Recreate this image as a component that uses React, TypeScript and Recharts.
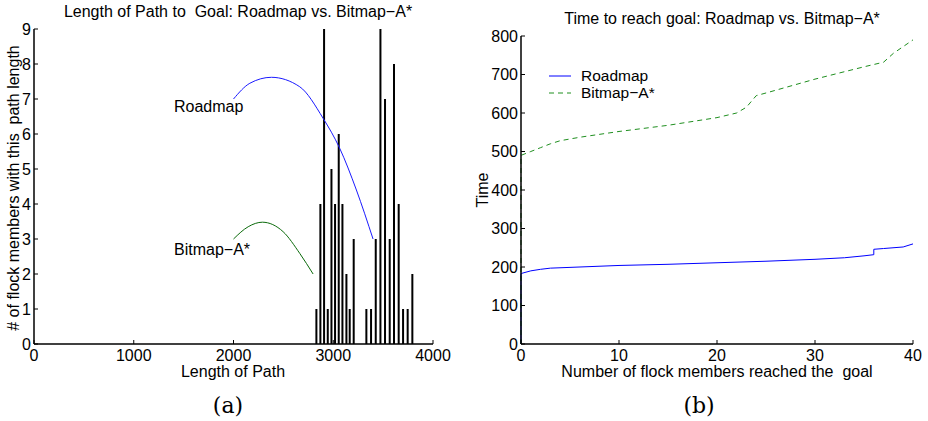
import { ComposedChart, LineChart, Line, Bar, XAxis, YAxis, Legend } from 'recharts'

// (a) histogram of path lengths
const pathLengths  = [2831, 2871, 2908, 2945, 2982, 3018, 3055, 3092, 3132, 3165, 3205, 3332, 3379, 3426, 3473, 3519, 3566, 3609, 3656, 3700, 3746, 3793]
const memberCounts = [1, 4, 9, 1, 5, 4, 6, 4, 2, 1, 3, 1, 1, 3, 9, 7, 3, 8, 4, 1, 1, 2]

// annotation curves pointing at the two groups
const roadmapArcX = [2000, 2164, 2381, 2664, 2898, 3065, 3232, 3399]
const roadmapArcY = [7.0, 7.45, 7.62, 7.35, 6.45, 5.59, 4.4, 3.0]
const bitmapArcX  = [2000, 2147, 2290, 2497, 2664, 2798]
const bitmapArcY  = [3.0, 3.35, 3.48, 3.21, 2.59, 2.0]

const lengthTicks = [0, 1000, 2000, 3000, 4000]
const countTicks  = [0, 1, 2, 3, 4, 5, 6, 7, 8, 9]

// (b) time to reach goal
const roadmapMembers = [0, 0, 1, 2, 3, 5, 10, 15, 20, 25, 30, 33, 35, 36, 36, 37, 39, 40]
const roadmapTimes   = [0, 183, 190, 194, 197, 199, 204, 207, 211, 215, 220, 224, 229, 232, 246, 248, 252, 260]
const bitmapMembers  = [0, 0, 1, 2, 3, 4, 6, 10, 15, 20, 22, 23, 24, 25, 30, 35, 37, 38, 40]
const bitmapTimes    = [0, 490, 500, 510, 520, 528, 537, 552, 568, 588, 600, 615, 645, 652, 688, 720, 732, 755, 790]

const memberTicks = [0, 10, 20, 30, 40]
const timeTicks   = [0, 100, 200, 300, 400, 500, 600, 700, 800]

const FONT = '"Liberation Sans", Arial, Helvetica, sans-serif'
const tickStyle = { fontSize: 16, fill: '#000', fontFamily: FONT }
const frame = { stroke: '#000', strokeWidth: 1.5 }
const blank = () => ''

const histData   = pathLengths.map((x, i) => ({ x, count: memberCounts[i] }))
const roadmapArc = roadmapArcX.map((x, i) => ({ x, y: roadmapArcY[i] }))
const bitmapArc  = bitmapArcX.map((x, i) => ({ x, y: bitmapArcY[i] }))
const roadmapRun = roadmapMembers.map((x, i) => ({ x, y: roadmapTimes[i] }))
const bitmapRun  = bitmapMembers.map((x, i) => ({ x, y: bitmapTimes[i] }))

// thin stem drawn at the centre of the bar slot
function Stem(props: any) {
  const { x, y, width, height } = props
  if (!height) return null
  return <rect x={x + width / 2 - 1} y={y} width={2} height={height} fill="#000" />
}

function Text({ x, y, children, size = 16, rotate = false, serif = false, anchor = 'center' }: any) {
  const tx = anchor === 'center' ? '-50%' : '0'
  return (
    <div
      style={{
        position:   'absolute',
        left:       x,
        top:        y,
        transform:  `translate(${tx}, -50%)${rotate ? ' rotate(-90deg)' : ''}`,
        fontSize:   size,
        fontFamily: serif ? '"DejaVu Serif", "Liberation Serif", serif' : FONT,
        whiteSpace: 'pre',
        color:      '#000',
        lineHeight: 1,
      }}
    >
      {children}
    </div>
  )
}

function LegendBox() {
  const rows = [
    { name: 'Roadmap',   color: '#0000ff', dash: undefined },
    { name: 'Bitmap-A*', color: '#1f8f1f', dash: '5 4' },
  ]
  return (
    <div style={{ fontFamily: FONT, fontSize: 15.5 }}>
      {rows.map((r) => (
        <div key={r.name} style={{ display: 'flex', alignItems: 'center', height: 17 }}>
          <svg width={24} height={6} style={{ marginRight: 8 }}>
            <line x1={0} y1={3} x2={22} y2={3} stroke={r.color} strokeWidth={1} strokeDasharray={r.dash} />
          </svg>
          <span style={{ whiteSpace: 'pre' }}>{r.name.replace('-', '\u2212')}</span>
        </div>
      ))}
    </div>
  )
}

export default function App() {
  return (
    <div style={{ position: 'absolute', left: 0, top: 0, width: 928, height: 421, background: '#fff' }}>
      <div style={{ position: 'absolute', left: 0, top: 0 }}>
        <ComposedChart width={460} height={421} data={histData} margin={{ top: 29, right: 27, bottom: 47, left: 4 }}>
          <XAxis
            dataKey="x" type="number" domain={[0, 4000]} ticks={lengthTicks}
            height={30} tickSize={-4} tickMargin={10} tick={tickStyle}
            axisLine={frame} tickLine={{ stroke: '#000' }} allowDataOverflow
          />
          <XAxis
            xAxisId="top" orientation="top" type="number" domain={[0, 4000]} ticks={lengthTicks}
            height={0} tickSize={-4} tickFormatter={blank}
            axisLine={frame} tickLine={{ stroke: '#000' }}
          />
          <YAxis
            type="number" domain={[0, 9]} ticks={countTicks} width={30}
            tickSize={-4} tickMargin={7} tick={tickStyle}
            axisLine={frame} tickLine={{ stroke: '#000' }} allowDataOverflow
          />
          <YAxis
            yAxisId="right" orientation="right" type="number" domain={[0, 9]} ticks={countTicks} width={0}
            tickSize={-4} tickFormatter={blank}
            axisLine={frame} tickLine={{ stroke: '#000' }}
          />
          <Bar dataKey="count" fill="#000" shape={<Stem />} isAnimationActive={false} />
          <Line data={roadmapArc} dataKey="y" type="monotone" stroke="#1a1aff" strokeWidth={1} dot={false} isAnimationActive={false} />
          <Line data={bitmapArc} dataKey="y" type="monotone" stroke="#0a6a0a" strokeWidth={1} dot={false} isAnimationActive={false} />
        </ComposedChart>
      </div>

      <div style={{ position: 'absolute', left: 460, top: 0 }}>
        <LineChart width={468} height={421} margin={{ top: 36, right: 15, bottom: 47, left: 21 }}>
          <XAxis
            dataKey="x" type="number" domain={[0, 40]} ticks={memberTicks}
            height={30} tickSize={-4} tickMargin={10} tick={tickStyle}
            axisLine={frame} tickLine={{ stroke: '#000' }}
          />
          <XAxis
            xAxisId="top" orientation="top" type="number" domain={[0, 40]} ticks={memberTicks}
            height={0} tickSize={-4} tickFormatter={blank}
            axisLine={frame} tickLine={{ stroke: '#000' }}
          />
          <YAxis
            type="number" domain={[0, 800]} ticks={timeTicks} width={40}
            tickSize={-4} tickMargin={7} tick={tickStyle}
            axisLine={frame} tickLine={{ stroke: '#000' }}
          />
          <YAxis
            yAxisId="right" orientation="right" type="number" domain={[0, 800]} ticks={timeTicks} width={0}
            tickSize={-4} tickFormatter={blank}
            axisLine={frame} tickLine={{ stroke: '#000' }}
          />
          <Legend
            layout="vertical" align="center" verticalAlign="middle"
            wrapperStyle={{ left: 89, top: 67, width: 'auto', height: 'auto' }}
            content={<LegendBox />}
          />
          <Line data={roadmapRun} dataKey="y" name="Roadmap" type="linear" stroke="#0000ff" strokeWidth={1} dot={false} isAnimationActive={false} />
          <Line data={bitmapRun} dataKey="y" name="Bitmap-A*" type="linear" stroke="#1f8f1f" strokeWidth={1} strokeDasharray="5 4" dot={false} isAnimationActive={false} />
        </LineChart>
      </div>

      {/* (a) texts */}
      <Text x={238} y={12}>{'Length of Path to  Goal: Roadmap vs. Bitmap\u2212A*'}</Text>
      <Text x={233} y={372}>Length of Path</Text>
      <Text x={14} y={188} rotate>{'# of flock members with this  path length'}</Text>
      <Text x={174} y={107} anchor="left">Roadmap</Text>
      <Text x={174} y={250} anchor="left">{'Bitmap\u2212A*'}</Text>
      <Text x={228} y={406} size={22} serif>(a)</Text>

      {/* (b) texts */}
      <Text x={722} y={19}>{'Time to reach goal: Roadmap vs. Bitmap\u2212A*'}</Text>
      <Text x={717} y={372}>{'Number of flock members reached the  goal'}</Text>
      <Text x={483} y={190} rotate>Time</Text>
      <Text x={699} y={406} size={22} serif>(b)</Text>
    </div>
  )
}
